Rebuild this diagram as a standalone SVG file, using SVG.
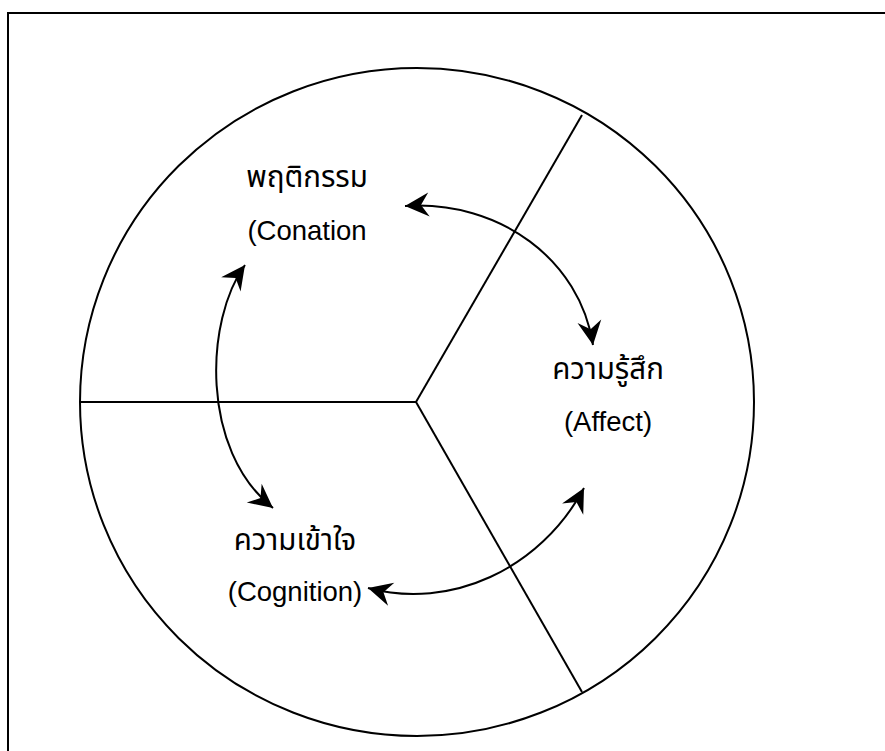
<svg xmlns="http://www.w3.org/2000/svg" width="885" height="751" viewBox="0 0 885 751">
  <defs>
    <style>
      .frame { fill: none; stroke: #000; stroke-width: 2; }
      .part { fill: none; stroke: #000; stroke-width: 2; }
      .link { fill: none; stroke: #000; stroke-width: 2; marker-start: url(#head); marker-end: url(#head); }
      .label { font-family: "Liberation Sans", Arial, "Noto Sans Thai", "Noto Sans", sans-serif; font-size: 27.5px; fill: #000; text-anchor: middle; }
      .thai { font-size: 29.5px; }
    </style>
    <marker id="head" markerUnits="userSpaceOnUse" viewBox="-25 -13 27 26" refX="0" refY="0" markerWidth="27" markerHeight="26" orient="auto-start-reverse">
      <path d="M0,0 L-24,-12 L-16,0 L-24,12 Z" fill="#000"/>
    </marker>
  </defs>

  <!-- outer frame, running past the right and bottom edges -->
  <rect class="frame" x="8" y="13" width="900" height="800"/>

  <!-- circle split into three sectors -->
  <g id="wheel">
    <ellipse class="part" cx="417" cy="402" rx="337" ry="334"/>
    <line class="part" x1="80" y1="402" x2="416" y2="402"/>
    <line class="part" x1="416" y1="402" x2="582" y2="115"/>
    <line class="part" x1="416" y1="402" x2="582" y2="692"/>
  </g>

  <g id="conation">
    <text class="label thai" x="307" y="187">พฤติกรรม</text>
    <text class="label" x="307" y="240">(Conation</text>
  </g>

  <g id="affect">
    <text class="label thai" x="608" y="379">ความรู้สึก</text>
    <text class="label" x="608" y="431">(Affect)</text>
  </g>

  <g id="cognition">
    <text class="label thai" x="295" y="550">ความเข้าใจ</text>
    <text class="label" x="295" y="601">(Cognition)</text>
  </g>

  <!-- two-way links between the three parts -->
  <g id="connectors">
    <path class="link" d="M405,206 C500,200 580,260 593,345"/>
    <path class="link" d="M245,265 C205,320 200,450 273,508"/>
    <path class="link" d="M368,588 C450,610 540,570 584,488"/>
  </g>
</svg>
